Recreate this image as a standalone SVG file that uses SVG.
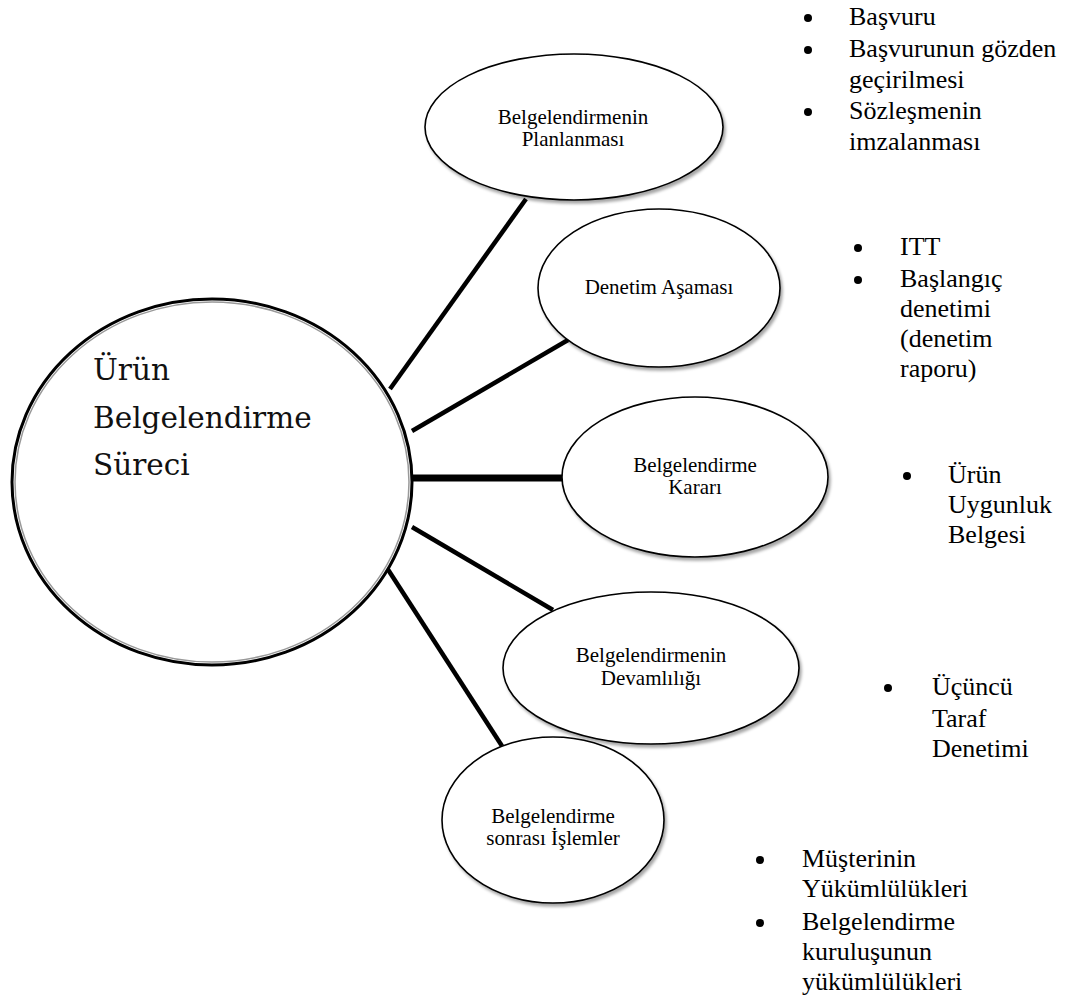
<svg xmlns="http://www.w3.org/2000/svg" width="1079" height="1006" viewBox="0 0 1079 1006">
  <defs>
    <filter id="sh" x="-10%" y="-10%" width="125%" height="130%">
      <feDropShadow dx="2" dy="3" stdDeviation="1.5" flood-color="#000" flood-opacity="0.35"/>
    </filter>
    <style>
      .node { fill: #fff; stroke: #000; stroke-width: 1.6; }
      .conn { stroke: #000; stroke-width: 4.5; fill: none; stroke-linecap: butt; }
      .nt { font-family: "Liberation Serif", "Times New Roman", serif; font-size: 21px; fill: #000; text-anchor: middle; }
      .bt { font-family: "Liberation Serif", "Times New Roman", serif; font-size: 26px; fill: #000; }
      .mt { font-family: "DejaVu Serif", serif; font-size: 29.5px; fill: #111; }
      .dot { fill: #000; }
    </style>
  </defs>
  <rect width="1079" height="1006" fill="#fff"/>

  <g id="connectors">
    <line class="conn" x1="390" y1="389" x2="526" y2="199"/>
    <line class="conn" x1="412" y1="431" x2="568" y2="340"/>
    <line class="conn" x1="412" y1="478" x2="564" y2="478" style="stroke-width:7"/>
    <line class="conn" x1="412" y1="527" x2="553" y2="610"/>
    <line class="conn" x1="387" y1="568" x2="502" y2="746"/>
  </g>

  <g id="main">
    <ellipse cx="212" cy="482" rx="200" ry="183" fill="#fff" stroke="#000" stroke-width="3"/>
    <ellipse cx="212" cy="482" rx="197" ry="180" fill="none" stroke="#999" stroke-width="1.5"/>
    <text class="mt" x="93" y="380">Ürün</text>
    <text class="mt" x="93" y="428">Belgelendirme</text>
    <text class="mt" x="93" y="475">Süreci</text>
  </g>

  <g id="n1">
    <ellipse class="node" cx="574" cy="127" rx="149" ry="73" filter="url(#sh)"/>
    <text class="nt" x="573" y="124">Belgelendirmenin</text>
    <text class="nt" x="573" y="146">Planlanması</text>
  </g>

  <g id="n2">
    <ellipse class="node" cx="659" cy="288" rx="121" ry="79" filter="url(#sh)"/>
    <text class="nt" x="659" y="294">Denetim Aşaması</text>
  </g>

  <g id="n3">
    <ellipse class="node" cx="695" cy="477" rx="133" ry="80" filter="url(#sh)"/>
    <text class="nt" x="695" y="472">Belgelendirme</text>
    <text class="nt" x="695" y="494">Kararı</text>
  </g>

  <g id="n4">
    <ellipse class="node" cx="651" cy="668" rx="148" ry="76" filter="url(#sh)"/>
    <text class="nt" x="651" y="662">Belgelendirmenin</text>
    <text class="nt" x="651" y="685">Devamlılığı</text>
  </g>

  <g id="n5">
    <ellipse class="node" cx="553" cy="820" rx="111" ry="83" filter="url(#sh)"/>
    <text class="nt" x="553" y="823">Belgelendirme</text>
    <text class="nt" x="553" y="845">sonrası İşlemler</text>
  </g>

  <g id="b1">
    <circle class="dot" cx="808" cy="18" r="4"/>
    <text class="bt" x="849" y="25">Başvuru</text>
    <circle class="dot" cx="808" cy="50" r="4"/>
    <text class="bt" x="849" y="57">Başvurunun gözden</text>
    <text class="bt" x="849" y="88">geçirilmesi</text>
    <circle class="dot" cx="808" cy="112" r="4"/>
    <text class="bt" x="849" y="119">Sözleşmenin</text>
    <text class="bt" x="849" y="150">imzalanması</text>
  </g>

  <g id="b2">
    <circle class="dot" cx="858" cy="248" r="4"/>
    <text class="bt" x="900" y="255">ITT</text>
    <circle class="dot" cx="858" cy="280" r="4"/>
    <text class="bt" x="900" y="287">Başlangıç</text>
    <text class="bt" x="900" y="317">denetimi</text>
    <text class="bt" x="900" y="347">(denetim</text>
    <text class="bt" x="900" y="377">raporu)</text>
  </g>

  <g id="b3">
    <circle class="dot" cx="907" cy="476" r="4"/>
    <text class="bt" x="948" y="483">Ürün</text>
    <text class="bt" x="948" y="513">Uygunluk</text>
    <text class="bt" x="948" y="543">Belgesi</text>
  </g>

  <g id="b4">
    <circle class="dot" cx="888" cy="688" r="4"/>
    <text class="bt" x="932" y="695">Üçüncü</text>
    <text class="bt" x="932" y="727">Taraf</text>
    <text class="bt" x="932" y="757">Denetimi</text>
  </g>

  <g id="b5">
    <circle class="dot" cx="760" cy="860" r="4"/>
    <text class="bt" x="802" y="867">Müşterinin</text>
    <text class="bt" x="802" y="897">Yükümlülükleri</text>
    <circle class="dot" cx="760" cy="923" r="4"/>
    <text class="bt" x="802" y="930">Belgelendirme</text>
    <text class="bt" x="802" y="960">kuruluşunun</text>
    <text class="bt" x="802" y="990">yükümlülükleri</text>
  </g>
</svg>
